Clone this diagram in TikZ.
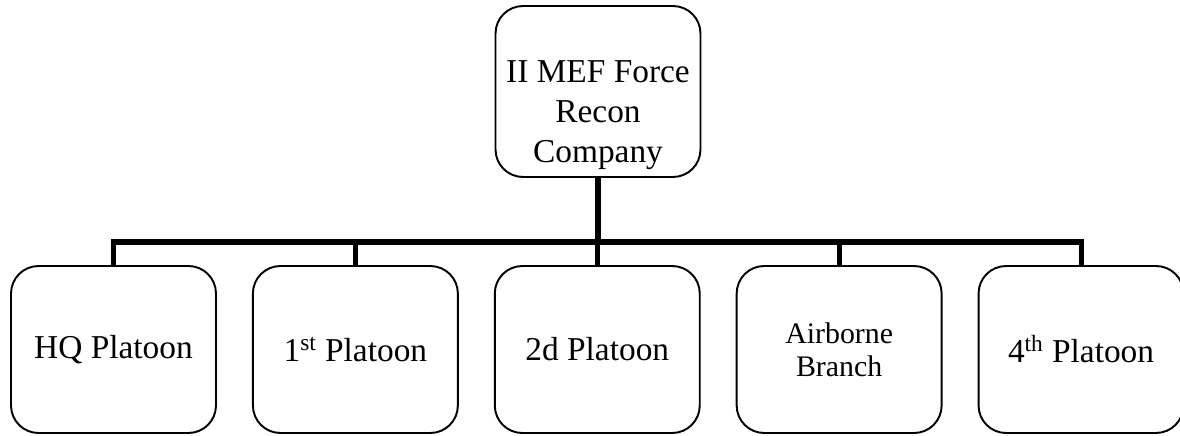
\documentclass[tikz,border=0pt]{standalone}
\usepackage{fontspec}
\setmainfont{Liberation Serif}
\usetikzlibrary{positioning}
\tikzstyle{unit} = [rectangle, draw, line width=1.1pt, rounded corners=0.55cm,
   minimum width=4.1cm, minimum height=3.34cm, text centered, align=center,
   inner sep=0pt, font=\fontsize{19}{22.8}\selectfont]
\tikzstyle{bus} = [draw, line width=2.9pt]

\begin{document}
\begin{tikzpicture}[x=0.02cm, y=-0.02cm, node distance=0.7cm]
\clip (0,0) rectangle (1180,436);
% Place nodes
\node [unit, minimum height=3.42cm] (mef) at (598,91.5) {};
\node [align=center, font=\fontsize{19}{22.8}\selectfont] (meftext) at (598,115) {II MEF Force\\Recon\\Company};
\node [unit] (hq) at (113.5,349.5) {HQ Platoon};
\node [unit, right=of hq] (first) {1\textsuperscript{st} Platoon};
\node [unit, right=of first] (second) {2d Platoon};
\node [unit, right=of second, font=\fontsize{17}{19}\selectfont] (airborne) {Airborne\\Branch};
\node [unit, right=of airborne] (fourth) {4\textsuperscript{th} Platoon};
\coordinate (busline) at (598,242);
% Draw edges
\path [bus] (mef.south) -- (mef.south |- busline);
\path [bus] (hq.north) -- (hq.north |- busline) -- (fourth.north |- busline) -- (fourth.north);
\foreach \n in {first,second,airborne}
   \path [bus] (\n.north |- busline) -- (\n.north);
\end{tikzpicture}
\end{document}
